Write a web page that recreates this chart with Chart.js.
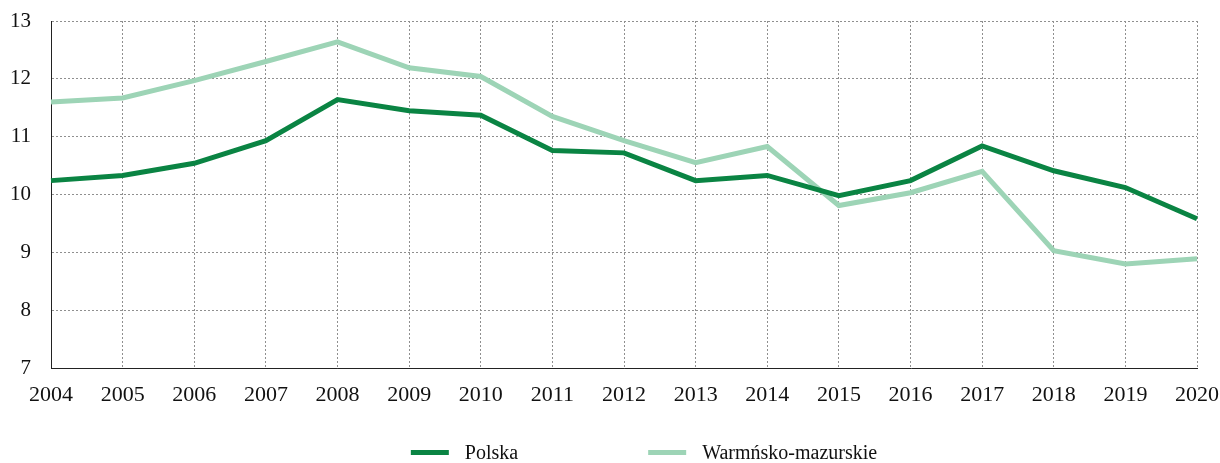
<!DOCTYPE html>
<html>
<head>
<meta charset="utf-8">
<script src="https://cdn.jsdelivr.net/npm/chart.js@4.4.0/dist/chart.umd.min.js"></script>
<style>
  html, body { margin: 0; padding: 0; background: #fff; }
  #wrap { width: 1220px; height: 463px; }
</style>
</head>
<body>
<div id="wrap"><canvas id="chart"></canvas></div>
<script>
const years = ['2004', '2005', '2006', '2007', '2008', '2009', '2010', '2011', '2012',
  '2013', '2014', '2015', '2016', '2017', '2018', '2019', '2020'];
const polska = [10.24, 10.33, 10.54, 10.93, 11.64, 11.45, 11.37, 10.76, 10.72,
  10.24, 10.33, 9.98, 10.24, 10.84, 10.41, 10.12, 9.58];
const warminsko = [11.6, 11.67, 11.97, 12.3, 12.64, 12.19, 12.04, 11.35, 10.93,
  10.55, 10.83, 9.81, 10.03, 10.40, 9.03, 8.80, 8.89];

const serif = '"Liberation Serif", "DejaVu Serif", serif';
const gridGrey = '#8f8f8f';

// legenda rysowana ręcznie - wbudowana nie pozwala na duży odstęp między pozycjami
const bottomLegend = {
  id: 'bottomLegend',
  afterDraw(chart) {
    const ctx = chart.ctx;
    const y = 453;
    const swatch = 38, gap = 16, itemGap = 130;
    ctx.save();
    ctx.font = '20px ' + serif;
    const items = chart.data.datasets.map(ds => ({
      ds, w: swatch + gap + ctx.measureText(ds.label).width
    }));
    const total = items.reduce((s, it) => s + it.w, 0) + itemGap * (items.length - 1);
    let x = (chart.width - total) / 2 + 34;
    items.forEach(it => {
      ctx.fillStyle = it.ds.borderColor;
      ctx.fillRect(x, y - 3, swatch, 5);
      ctx.fillStyle = '#111';
      ctx.textBaseline = 'middle';
      ctx.fillText(it.ds.label, x + swatch + gap, y + 1);
      x += it.w + itemGap;
    });
    ctx.restore();
  }
};

new Chart(document.getElementById('chart'), {
  type: 'line',
  data: {
    labels: years,
    datasets: [
      { label: 'Polska', data: polska, borderColor: '#0a8443', backgroundColor: '#0a8443',
        borderWidth: 5, pointRadius: 0, tension: 0 },
      { label: 'Warmńsko-mazurskie', data: warminsko, borderColor: '#9dd4b6', backgroundColor: '#9dd4b6',
        borderWidth: 5, pointRadius: 0, tension: 0 }
    ]
  },
  options: {
    responsive: true,
    maintainAspectRatio: false,
    animation: false,
    layout: { padding: { left: 0, right: 23, top: 21, bottom: 55 } },
    scales: {
      x: {
        grid: { color: gridGrey, lineWidth: 1, drawTicks: false },
        border: { color: '#222', width: 1, dash: [2, 2] },
        ticks: { color: '#111', font: { family: serif, size: 22 }, padding: 14, maxRotation: 0, autoSkip: false },
        afterFit(scale) {
          scale.height = 40;
          scale.paddingLeft = 0;
          scale.paddingRight = 0;
        }
      },
      y: {
        min: 7, max: 13,
        grid: { color: gridGrey, lineWidth: 1, drawTicks: false },
        border: { color: '#222', width: 1, dash: [2, 2] },
        ticks: { stepSize: 1, color: '#111', font: { family: serif, size: 21 }, padding: 20 },
        afterFit(scale) {
          scale.width = 51;
          scale.paddingTop = 0;
          scale.paddingBottom = 0;
        }
      }
    },
    plugins: {
      legend: { display: false },
      tooltip: { enabled: false }
    }
  },
  plugins: [bottomLegend]
});
</script>
</body>
</html>
